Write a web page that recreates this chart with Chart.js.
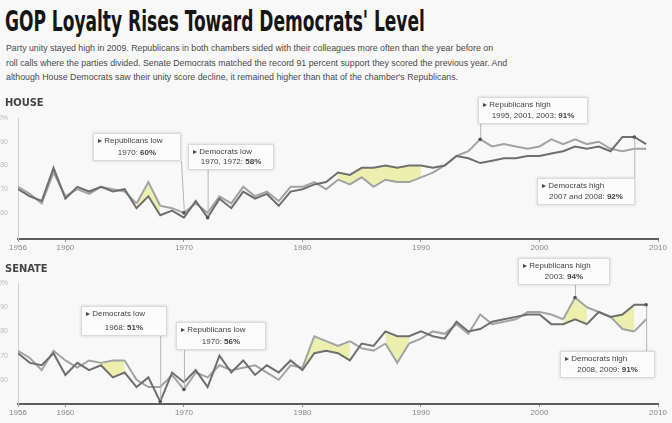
<!DOCTYPE html>
<html>
<head>
<meta charset="utf-8">
<script src="https://cdn.jsdelivr.net/npm/chart.js@4.4.0/dist/chart.umd.min.js"></script>
<style>
  body { margin: 0; background: #f8f8f8; width: 672px; height: 423px; overflow: hidden; position: relative; font-family: 'Liberation Sans', Arial, sans-serif; }
  .title { position: absolute; left: 5px; top: 5px; font: bold 28px 'DejaVu Sans Condensed', sans-serif; color: #151515; white-space: nowrap; transform-origin: 0 0; }
  .intro { position: absolute; left: 6px; top: 41px; width: 500px; font-size: 8.8px; line-height: 14.5px; color: #4a4a4a; }
  .intro div { white-space: nowrap; }
  .chamber { position: absolute; left: 5px; font: bold 11px 'DejaVu Sans Condensed', sans-serif; color: #444; }
  .box { position: absolute; left: 0; width: 672px; }
</style>
</head>
<body>
<div class="title" id="title">GOP Loyalty Rises Toward Democrats' Level</div>
<div class="intro">
  <div>Party unity stayed high in 2009. Republicans in both chambers sided with their colleagues more often than the year before on</div>
  <div>roll calls where the parties divided. Senate Democrats matched the record 91 percent support they scored the previous year. And</div>
  <div>although House Democrats saw their unity score decline, it remained higher than that of the chamber's Republicans.</div>
</div>
<div class="box" style="top:92px;height:166px"><canvas id="houseChart"></canvas></div>
<div class="box" style="top:256px;height:167px"><canvas id="senateChart"></canvas></div>
<div class="chamber" style="top:96px">HOUSE</div>
<div class="chamber" style="top:262px">SENATE</div>
<script>
// squeeze the headline to the condensed width of the original
const titleEl = document.getElementById('title');
titleEl.style.transform = 'scaleX(' + (420 / titleEl.offsetWidth) + ')';

// years on the chart
const years = [1956, 1957, 1958, 1959, 1960, 1961, 1962, 1963, 1964, 1965,
  1966, 1967, 1968, 1969, 1970, 1971, 1972, 1973, 1974, 1975,
  1976, 1977, 1978, 1979, 1980, 1981, 1982, 1983, 1984, 1985,
  1986, 1987, 1988, 1989, 1990, 1991, 1992, 1993, 1994, 1995,
  1996, 1997, 1998, 1999, 2000, 2001, 2002, 2003, 2004, 2005,
  2006, 2007, 2008, 2009];

// party unity scores, percent
const houseDem = [70, 67, 65, 79, 66, 71, 69, 71, 69, 70,
  62, 67, 59, 61, 58, 65, 58, 66, 62, 69,
  66, 68, 63, 69, 70, 72, 73, 77, 76, 79,
  79, 80, 79, 80, 80, 79, 80, 84, 83, 81,
  82, 83, 83, 84, 84, 85, 86, 88, 87, 88,
  86, 92, 92, 89];
const houseRep = [71, 68, 64, 77, 67, 70, 68, 71, 70, 69,
  64, 73, 63, 62, 60, 64, 60, 67, 64, 71,
  67, 69, 65, 71, 71, 73, 70, 74, 72, 75,
  71, 74, 73, 73, 75, 77, 80, 84, 86, 91,
  88, 89, 88, 87, 88, 91, 89, 91, 89, 90,
  87, 86, 87, 87];
const senateDem = [71, 67, 66, 71, 62, 67, 64, 66, 61, 63,
  57, 61, 51, 63, 59, 64, 57, 70, 63, 68,
  62, 66, 63, 68, 64, 71, 72, 71, 68, 75,
  74, 80, 78, 78, 80, 78, 77, 84, 80, 81,
  84, 85, 86, 87, 87, 83, 83, 85, 83, 88,
  86, 87, 91, 91];
const senateRep = [72, 69, 64, 72, 68, 65, 68, 67, 68, 68,
  60, 57, 57, 62, 56, 63, 61, 66, 64, 65,
  66, 63, 60, 66, 65, 78, 76, 74, 76, 73,
  72, 75, 67, 75, 77, 80, 79, 83, 79, 87,
  83, 84, 85, 88, 88, 87, 85, 94, 90, 88,
  86, 81, 80, 85];

// stretches shaded between the lines
const houseShade = [[1966, 1968], [1983, 1990]];
const senateShade = [[1963, 1965], [1980, 1984], [1987, 1989], [2002, 2004], [2006, 2008]];

const tickYears = [1956, 1960, 1970, 1980, 1990, 2000, 2010];
const tickLabels = ['1956', '1960', '1970', '1980', '1990', '2000', '2010'];
const valueTicks = [60, 70, 80, 90, 100];
const valueLabels = ['60', '70', '80', '90', '100%'];

function pts(vals) {
  return years.map((y, i) => ({ x: y, y: vals[i] }));
}

function inShade(ranges, x0) {
  return ranges.some(r => x0 >= r[0] && x0 < r[1]);
}

// boxes with a leader line to the point they talk about
const notesPlugin = {
  id: 'notes',
  afterDatasetsDraw(chart, args, opts) {
    const { ctx, scales } = chart;
    ctx.save();
    (opts.items || []).forEach(n => {
      const px = scales.x.getPixelForValue(n.year);
      const py = scales.y.getPixelForValue(n.value);
      const ex = Math.min(Math.max(px, n.bx), n.bx + n.bw);
      const ey = py > n.by + n.bh ? n.by + n.bh : n.by;
      ctx.strokeStyle = '#b5b5b5';
      ctx.lineWidth = 1;
      ctx.beginPath();
      ctx.moveTo(px + 0.5, py);
      ctx.lineTo(ex + 0.5, ey);
      ctx.stroke();
      ctx.fillStyle = '#555';
      ctx.beginPath();
      ctx.arc(px, py, 1.8, 0, Math.PI * 2);
      ctx.fill();
      ctx.shadowColor = 'rgba(0,0,0,0.18)';
      ctx.shadowBlur = 3;
      ctx.fillStyle = 'rgba(255,255,255,0.92)';
      ctx.fillRect(n.bx, n.by, n.bw, n.bh);
      ctx.shadowBlur = 0;
      ctx.strokeStyle = '#dadada';
      ctx.strokeRect(n.bx + 0.5, n.by + 0.5, n.bw - 1, n.bh - 1);
      ctx.textBaseline = 'middle';
      ctx.textAlign = 'left';
      ctx.fillStyle = '#444';
      ctx.font = '8px "Liberation Sans", sans-serif';
      ctx.fillText('\u25B8 ' + n.head, n.bx + 5, n.by + 8);
      const w1 = ctx.measureText(n.when + ' ').width;
      ctx.font = 'bold 8px "Liberation Sans", sans-serif';
      const w2 = ctx.measureText(n.pct).width;
      const x = n.bx + (n.bw - w1 - w2) / 2;
      ctx.font = '8px "Liberation Sans", sans-serif';
      ctx.fillText(n.when + ' ', x, n.by + n.bh - 8);
      ctx.font = 'bold 8px "Liberation Sans", sans-serif';
      ctx.fillText(n.pct, x + w1, n.by + n.bh - 8);
    });
    ctx.restore();
  }
};

function makeChart(id, dem, rep, shade, yMin, padTop, notes) {
  const ctx = document.getElementById(id).getContext('2d');
  return new Chart(ctx, {
    type: 'line',
    data: {
      datasets: [
        {
          label: 'Democrats',
          data: pts(dem),
          borderColor: '#6f6f6f',
          borderWidth: 2,
          pointRadius: 0,
          tension: 0,
          fill: false
        },
        {
          label: 'Republicans',
          data: pts(rep),
          borderColor: '#a3a3a3',
          borderWidth: 2,
          pointRadius: 0,
          tension: 0,
          backgroundColor: 'rgba(0,0,0,0)',
          fill: '-1',
          segment: {
            backgroundColor: c => inShade(shade, c.p0.parsed.x) ? 'rgba(232,236,150,0.75)' : 'rgba(0,0,0,0)'
          }
        }
      ]
    },
    options: {
      responsive: true,
      maintainAspectRatio: false,
      animation: false,
      layout: { padding: { top: padTop, right: 14, bottom: 3, left: 0 } },
      plugins: {
        legend: { display: false },
        tooltip: { enabled: false },
        notes: { items: notes }
      },
      scales: {
        x: {
          type: 'linear',
          min: 1956,
          max: 2010,
          afterFit: s => { s.height = 16; },
          afterBuildTicks: s => { s.ticks = tickYears.map(v => ({ value: v })); },
          border: { display: true, color: '#5e5e5e', width: 2 },
          grid: { display: true, drawOnChartArea: false, drawTicks: true, tickLength: 3, color: '#999' },
          ticks: {
            autoSkip: false,
            maxRotation: 0,
            padding: 1,
            color: '#888',
            font: { size: 8, family: 'Liberation Sans' },
            callback: v => tickLabels[tickYears.indexOf(v)]
          }
        },
        y: {
          min: yMin,
          max: 100,
          afterFit: s => { s.width = 18; },
          afterBuildTicks: s => { s.ticks = valueTicks.map(v => ({ value: v })); },
          border: { display: true, color: '#cfcfcf', width: 1 },
          grid: { display: false },
          ticks: {
            padding: 2,
            color: '#bdbdbd',
            font: { size: 7, family: 'Liberation Sans' },
            callback: v => valueLabels[valueTicks.indexOf(v)]
          }
        }
      }
    },
    plugins: [notesPlugin]
  });
}

makeChart('houseChart', houseDem, houseRep, houseShade, 49, 26, [
  { head: 'Republicans low', when: '1970:', pct: '60%', year: 1970, value: 60, bx: 93, by: 41, bw: 88, bh: 28 },
  { head: 'Democrats low', when: '1970, 1972:', pct: '58%', year: 1972, value: 58, bx: 188, by: 52, bw: 86, bh: 26 },
  { head: 'Republicans high', when: '1995, 2001, 2003:', pct: '91%', year: 1995, value: 91, bx: 478, by: 5, bw: 110, bh: 27 },
  { head: 'Democrats high', when: '2007 and 2008:', pct: '92%', year: 2008, value: 92, bx: 537, by: 86, bw: 98, bh: 27 }
]);

makeChart('senateChart', senateDem, senateRep, senateShade, 50, 27, [
  { head: 'Democrats low', when: '1968:', pct: '51%', year: 1968, value: 51, bx: 81, by: 50, bw: 86, bh: 30 },
  { head: 'Republicans low', when: '1970:', pct: '56%', year: 1970, value: 56, bx: 176, by: 66, bw: 90, bh: 28 },
  { head: 'Republicans high', when: '2003:', pct: '94%', year: 2003, value: 94, bx: 518, by: 2, bw: 92, bh: 27 },
  { head: 'Democrats high', when: '2008, 2009:', pct: '91%', year: 2009, value: 91, bx: 560, by: 95, bw: 95, bh: 27 }
]);
</script>
</body>
</html>
